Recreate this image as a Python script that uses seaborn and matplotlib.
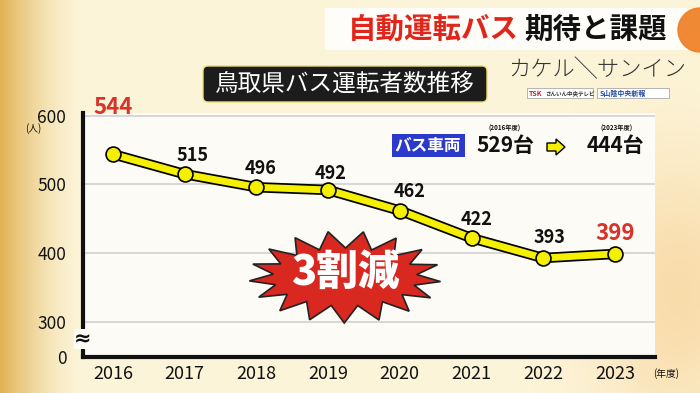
import numpy as np
import pandas as pd
import matplotlib
matplotlib.use("Agg")
import matplotlib.pyplot as plt
from matplotlib.patches import FancyBboxPatch, Polygon, Rectangle
import seaborn as sns

# データ
years = [2016, 2017, 2018, 2019, 2020, 2021, 2022, 2023]
drivers = [544, 515, 496, 492, 462, 422, 393, 399]
# ラベルのずらし (px)
label_dx = [0, 8, 4, 2, 10, 5, 6, 0]
label_dy = [47, 19, 19, 16, 19, 19, 21, 20]
highlight = [True, False, False, False, False, False, False, True]
ytick_vals = [249, 300, 400, 500, 600]
ytick_labels = ["0", "300", "400", "500", "600"]

title_red = "自動運転バス"
title_black = "期待と課題"
subtitle = "鳥取県バス運転者数推移"

sns.set_theme(style="white")
plt.rcParams["font.family"] = ["Noto Sans CJK JP", "DejaVu Sans"]
plt.rcParams["font.weight"] = "bold"

W, H = 700, 393
fig = plt.figure(figsize=(7, 3.93), dpi=100)

# 背景グラデーション
bg = fig.add_axes([0, 0, 1, 1], zorder=0)
xx, yy = np.meshgrid(np.linspace(0, 1, 350), np.linspace(0, 1, 200))
cream = np.array([0.99, 0.96, 0.85])
gold = np.array([0.88, 0.70, 0.33])
peach = np.array([0.97, 0.80, 0.55])
w_left = np.clip(1 - xx / 0.12, 0, 1) ** 1.6
w_right = np.exp(-(((xx - 0.97) / 0.12) ** 2 + ((yy - 0.75) / 0.35) ** 2))
img = cream[None, None, :] * (1 - w_left[..., None]) + gold * w_left[..., None]
img = img * (1 - 0.6 * w_right[..., None]) + peach * 0.6 * w_right[..., None]
bg.imshow(img, aspect="auto", extent=[0, W, H, 0])
bg.set_xlim(0, W)
bg.set_ylim(H, 0)
bg.axis("off")

# メイングラフ
left, right, top, bottom = 83, 655, 113, 357
ax = fig.add_axes([left / W, 1 - bottom / H, (right - left) / W, (bottom - top) / H], zorder=2)
ax.set_facecolor("#fcfbf5")
df = pd.DataFrame({"year": years, "drivers": drivers})
sns.lineplot(data=df, x="year", y="drivers", ax=ax, color="black", lw=7.5, zorder=3)
sns.lineplot(data=df, x="year", y="drivers", ax=ax, color="#f5f000", lw=5, zorder=4)
sns.scatterplot(data=df, x="year", y="drivers", ax=ax, color="#f5f000", edgecolor="black",
                linewidth=1.2, s=115, zorder=5)
ax.set_xlim(2015.58, 2023.56)
ax.set_ylim(249, 604)
ax.set_yticks(ytick_vals)
ax.set_yticklabels(ytick_labels)
ax.set_xticks(years)
ax.set_xticklabels([str(y) for y in years])
ax.tick_params(axis="y", length=0, pad=12, labelsize=12.5, labelcolor="#111111")
ax.tick_params(axis="x", length=0, pad=6, labelsize=13, labelcolor="#111111")
for lbl in ax.get_xticklabels() + ax.get_yticklabels():
    lbl.set_fontweight("normal")
ax.set_xlabel("")
ax.set_ylabel("")
for y in [300, 400, 500, 600]:
    ax.axhline(y, color="#d2d2d2", lw=1.2, zorder=1)
for s in ["top", "right"]:
    ax.spines[s].set_visible(False)
for s in ["left", "bottom"]:
    ax.spines[s].set_color("#111111")
    ax.spines[s].set_linewidth(3)
    ax.spines[s].set_zorder(6)

for yr, v, dx, dy, hl in zip(years, drivers, label_dx, label_dy, highlight):
    ax.annotate(str(v), (yr, v), xytext=(dx * 0.72, dy * 0.72), textcoords="offset points",
                ha="center", va="center", fontsize=16 if hl else 13, fontweight="bold",
                color="#d6332a" if hl else "#111111", zorder=7)

# 装飾レイヤー (px座標)
ov = fig.add_axes([0, 0, 1, 1], zorder=3)
ov.set_xlim(0, W)
ov.set_ylim(H, 0)
ov.axis("off")
ov.patch.set_alpha(0)

# タイトル
ov.add_patch(Rectangle((325, 8), 362, 42, color="white", alpha=0.85, lw=0))
ov.add_patch(plt.Circle((700, 30), 22, color="#ef7d22", alpha=0.9))
ov.text(348, 30, title_red, fontsize=20.5, color="#e0261b", ha="left", va="center", fontweight="bold")
ov.text(524, 30, title_black, fontsize=20.5, color="#111111", ha="left", va="center", fontweight="bold")

# サブタイトル
ov.add_patch(FancyBboxPatch((203, 66), 284, 36, boxstyle="round,pad=0,rounding_size=5",
                            fc="#1c1c1c", ec="#e8df70", lw=1))
ov.text(345, 84, subtitle, fontsize=17, color="white", ha="center", va="center", fontweight="normal")

# ロゴ
ov.text(597, 70, "カケル╲サンイン", fontsize=16, color="#333333", ha="center", va="center",
        fontweight="light", family=["Noto Sans CJK JP", "DejaVu Sans"])
ov.add_patch(Rectangle((527, 88), 66, 10, fc="white", ec="#999999", lw=0.5))
ov.add_patch(Rectangle((597, 88), 72, 10, fc="white", ec="#999999", lw=0.5))
ov.text(529, 93, "TSK", fontsize=5, color="#d0202a", ha="left", va="center", fontweight="bold")
ov.text(545, 93, "さんいん中央テレビ", fontsize=4, color="#333333", ha="left", va="center")
ov.text(600, 93, "S山陰中央新報", fontsize=5, color="#1f4aa0", ha="left", va="center")

# 軸の単位
ov.text(33, 129, "(人)", fontsize=7, color="#111111", ha="center", va="center", fontweight="normal")
ov.text(666, 374, "(年度)", fontsize=7, color="#111111", ha="center", va="center", fontweight="normal")
ov.text(83, 339, "≈", fontsize=15, color="#111111", ha="center", va="center",
        family=["DejaVu Sans"], bbox=dict(fc="#fcfbf5", ec="none", pad=0.05))

# バス車両
ov.add_patch(Rectangle((392, 134), 73, 23, fc="#2b3acb", ec="none"))
ov.text(428, 145.5, "バス車両", fontsize=12, color="white", ha="center", va="center", fontweight="bold")
ov.text(505, 146, "529台", fontsize=15, color="#111111", ha="center", va="center", fontweight="bold")
ov.text(615, 146, "444台", fontsize=15, color="#111111", ha="center", va="center", fontweight="bold")
ov.text(505, 128, "(2016年度)", fontsize=4.5, color="#111111", ha="center", va="center")
ov.text(617, 128, "(2023年度)", fontsize=4.5, color="#111111", ha="center", va="center")
ov.add_patch(Polygon([(547, 143), (556, 143), (556, 139), (565, 147), (556, 155), (556, 151), (547, 151)],
                     closed=True, fc="#f5f000", ec="black", lw=1))

# 3割減 (星型)
cx, cy = 345, 277
n = 17
ang = np.linspace(0, 2 * np.pi, 2 * n, endpoint=False) + 0.1
rx = np.where(np.arange(2 * n) % 2 == 0, 96, 72)
ry = np.where(np.arange(2 * n) % 2 == 0, 46, 29)
pts = np.column_stack([cx + rx * np.cos(ang), cy + ry * np.sin(ang)])
ov.add_patch(Polygon(pts, closed=True, fc="#d8281f", ec="#222222", lw=1.2))
ov.text(cx, cy - 4, "3割減", fontsize=30, color="white", ha="center", va="center", fontweight="black")

fig.savefig("out.png", dpi=100)
